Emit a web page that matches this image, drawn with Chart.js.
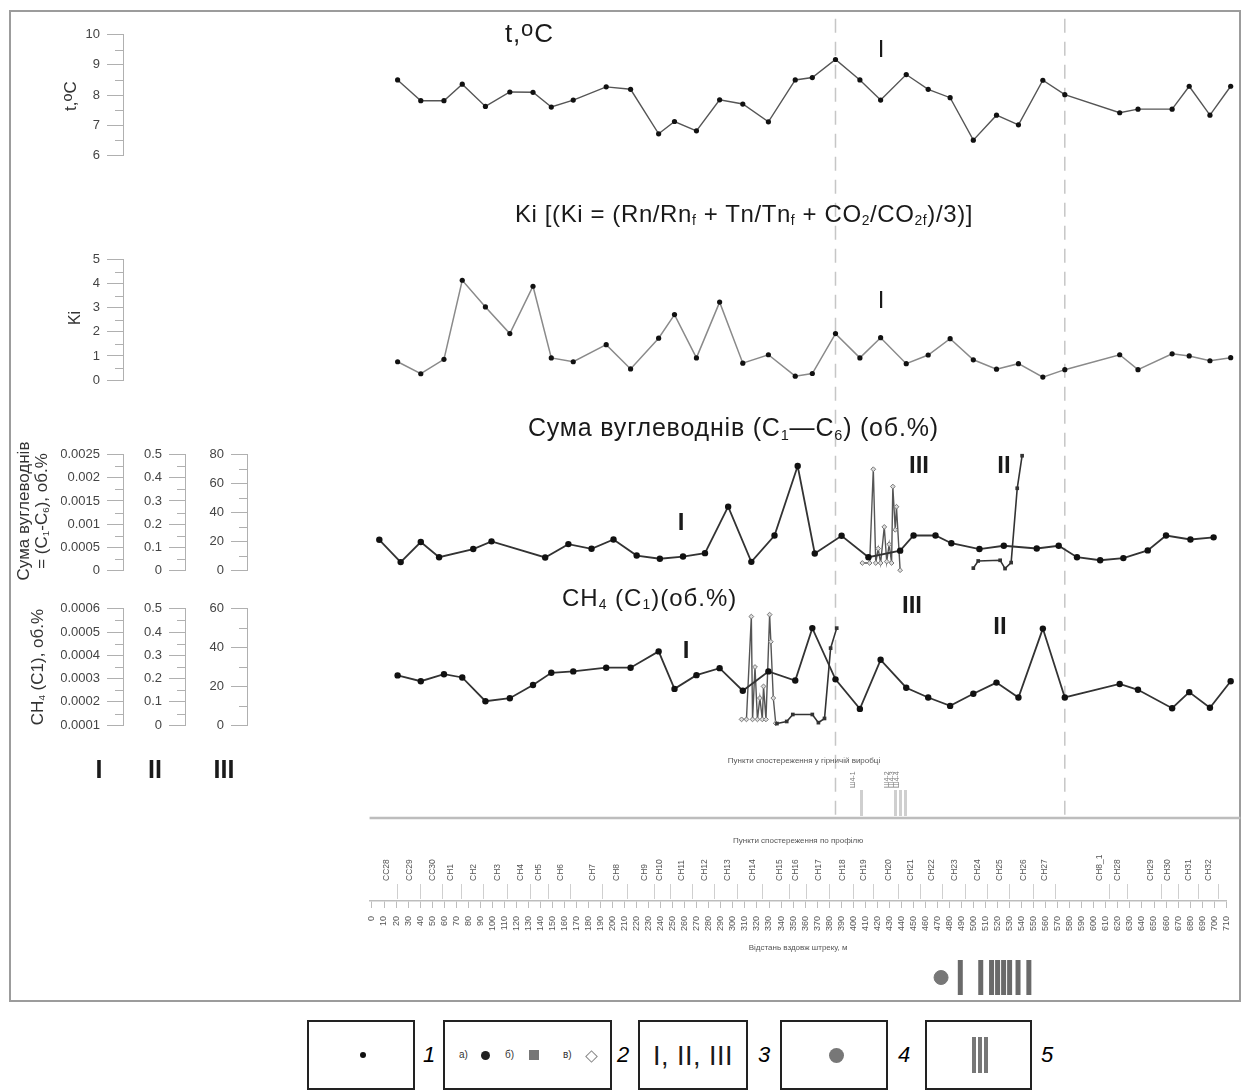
<!DOCTYPE html>
<html lang="uk">
<head>
<meta charset="utf-8">
<title>Профіль спостережень</title>
<script src="https://cdn.jsdelivr.net/npm/chart.js@4.4.1/dist/chart.umd.min.js"></script>
<style>
  body { margin: 0; background: #fff; font-family: "Liberation Sans", Arial, sans-serif; }
  #page { position: relative; width: 1245px; height: 1092px; overflow: hidden; background: #fff; }
  canvas { position: absolute; left: 0; }
  .frame { position: absolute; left: 9px; top: 10px; width: 1232px; height: 992px; border: 2px solid #9c9c9c; box-sizing: border-box; }
  .t { position: absolute; line-height: 1; white-space: nowrap; color: #1a1a1a; }
  .c { transform: translateX(-50%); }
  .b { font-weight: bold; }
  .rot { transform: translate(-50%, -50%) rotate(-90deg); text-align: center; color: #333; }
  sub { font-size: 58%; position: relative; top: 0.25em; vertical-align: baseline; line-height: 0; }
  sup { font-size: 85%; position: relative; top: -0.25em; vertical-align: baseline; line-height: 0; }
  .lg { position: absolute; top: 1020px; height: 70px; border: 2px solid #222; box-sizing: border-box; }
  .num { position: absolute; top: 1044px; font-size: 22px; font-style: italic; line-height: 1; }
</style>
</head>
<body>
<div id="page">
  <div class="frame"></div>

  <canvas id="cFrame" width="1245" height="820" style="top:10px"></canvas>
  <canvas id="cTemp" width="1245" height="150" style="top:20px"></canvas>
  <canvas id="cKi" width="1245" height="150" style="top:245px"></canvas>
  <canvas id="cSum" width="1245" height="145" style="top:440px"></canvas>
  <canvas id="cCh4" width="1245" height="146" style="top:594px"></canvas>
  <canvas id="cMine" width="1245" height="80" style="top:740px"></canvas>
  <canvas id="cRuler" width="1245" height="125" style="top:830px"></canvas>
  <canvas id="cMarks" width="1245" height="45" style="top:955px"></canvas>

  <!-- panel titles -->
  <div class="t" style="left:505px; top:20px; font-size:26px; letter-spacing:0.8px">t,<sup>o</sup>C</div>
  <div class="t c" style="left:744px; top:202px; font-size:24px; letter-spacing:0.6px">Ki [(Ki = (Rn/Rn<sub>f</sub> + Tn/Tn<sub>f</sub> + CO<sub>2</sub>/CO<sub>2f</sub>)/3)]</div>
  <div class="t" style="left:528px; top:415px; font-size:25px; letter-spacing:0.8px">Сума вуглеводнів (C<sub>1</sub>—C<sub>6</sub>) (об.%)</div>
  <div class="t" style="left:562px; top:586px; font-size:24px; letter-spacing:1px">CH<sub>4</sub> (C<sub>1</sub>)(об.%)</div>

  <!-- zone numerals -->
  <div class="t c" style="left:881px; top:37px; font-size:24px">I</div>
  <div class="t c" style="left:881px; top:288px; font-size:24px">I</div>
  <div class="t c b" style="left:681px; top:510px; font-size:24px">I</div>
  <div class="t c b" style="left:919px; top:453px; font-size:24px">III</div>
  <div class="t c b" style="left:1004px; top:453px; font-size:24px">II</div>
  <div class="t c b" style="left:686px; top:638px; font-size:24px">I</div>
  <div class="t c b" style="left:912px; top:593px; font-size:24px">III</div>
  <div class="t c b" style="left:1000px; top:614px; font-size:24px">II</div>

  <!-- left axis titles -->
  <div class="t rot" style="left:70px; top:96px; font-size:17px">t,<sup>o</sup>C</div>
  <div class="t rot" style="left:75px; top:318px; font-size:16px">Ki</div>
  <div class="t rot" style="left:33px; top:511px; font-size:17px; line-height:1.05">Сума вуглеводнів<br>= (C<sub>1</sub>-C<sub>6</sub>), об.%</div>
  <div class="t rot" style="left:37px; top:667px; font-size:17px">CH<sub>4</sub> (C1), об.%</div>

  <div class="t c b" style="left:99px; top:757px; font-size:25px">I</div>
  <div class="t c b" style="left:155px; top:757px; font-size:25px">II</div>
  <div class="t c b" style="left:224px; top:757px; font-size:25px">III</div>

  <!-- legend -->
  <div class="lg" style="left:307px; width:108px">
    <span style="position:absolute; left:51px; top:30px; width:6px; height:6px; border-radius:50%; background:#111"></span>
  </div>
  <div class="num" style="left:423px">1</div>
  <div class="lg" style="left:443px; width:169px; font-size:10px; color:#333">
    <span style="position:absolute; left:14px; top:27px">а)</span>
    <span style="position:absolute; left:36px; top:29px; width:9px; height:9px; border-radius:50%; background:#222"></span>
    <span style="position:absolute; left:60px; top:27px">б)</span>
    <span style="position:absolute; left:84px; top:28px; width:10px; height:10px; background:#777"></span>
    <span style="position:absolute; left:118px; top:27px">в)</span>
    <span style="position:absolute; left:142px; top:30px; width:7px; height:7px; border:1px solid #888; transform:rotate(45deg)"></span>
  </div>
  <div class="num" style="left:617px">2</div>
  <div class="lg" style="left:638px; width:110px">
    <span class="t" style="left:13px; top:21px; font-size:27px; letter-spacing:0.5px">I, II, III</span>
  </div>
  <div class="num" style="left:758px">3</div>
  <div class="lg" style="left:780px; width:108px">
    <span style="position:absolute; left:47px; top:26px; width:15px; height:15px; border-radius:50%; background:#777"></span>
  </div>
  <div class="num" style="left:898px">4</div>
  <div class="lg" style="left:925px; width:107px">
    <span style="position:absolute; left:45px; top:15px; width:4px; height:36px; background:#777"></span>
    <span style="position:absolute; left:51px; top:15px; width:4px; height:36px; background:#777"></span>
    <span style="position:absolute; left:57px; top:15px; width:4px; height:36px; background:#777"></span>
  </div>
  <div class="num" style="left:1041px">5</div>
</div>

<script>
// profile distance, m (observation stations along the drift)
const stations = [21, 40, 59, 74, 93, 113, 132, 147, 165, 192, 212, 235, 248, 266, 285, 304, 325, 347,
  361, 380, 400, 417, 438, 456, 474, 493, 512, 530, 550, 568, 613, 628, 656, 670, 687, 704];
const stationLabels = ['CC28', 'CC29', 'CC30', 'CH1', 'CH2', 'CH3', 'CH4', 'CH5', 'CH6', 'CH7', 'CH8', 'CH9',
  'CH10', 'CH11', 'CH12', 'CH13', 'CH14', 'CH15', 'CH16', 'CH17', 'CH18', 'CH19', 'CH20', 'CH21', 'CH22',
  'CH23', 'CH24', 'CH25', 'CH26', 'CH27', 'CH8_1', 'CH28', 'CH29', 'CH30', 'CH31', 'CH32'];

const tempC = [8.50, 7.81, 7.81, 8.36, 7.62, 8.10, 8.09, 7.60, 7.83, 8.27, 8.19, 6.71, 7.12, 6.81, 7.84, 7.70,
  7.11, 8.50, 8.58, 9.18, 8.50, 7.83, 8.68, 8.19, 7.91, 6.50, 7.33, 7.01, 8.49, 8.01, 7.41, 7.53, 7.53, 8.29, 7.33, 8.29];

const kiValues = [0.76, 0.26, 0.86, 4.15, 3.04, 1.93, 3.90, 0.92, 0.76, 1.47, 0.46, 1.74, 2.72, 0.92, 3.24, 0.70,
  1.05, 0.16, 0.27, 1.93, 0.92, 1.76, 0.68, 1.04, 1.72, 0.84, 0.45, 0.68, 0.12, 0.43, 1.05, 0.43, 1.09, 1.00, 0.80, 0.93];

// sum of hydrocarbons C1-C6, vol.% (scale I)
const sumX = [6, 23.5, 40, 55, 83, 98, 142, 161, 180, 198, 217, 236, 255, 273, 292, 311, 330, 349, 363,
  385, 407, 433, 444, 462, 475, 498, 518, 545, 563, 578, 597, 616, 636, 651, 671, 690];
const sumMain = [0.000659, 0.000175, 0.000611, 0.000282, 0.000458, 0.000625, 0.000276, 0.000565, 0.000464,
  0.000665, 0.000317, 0.000248, 0.000296, 0.000369, 0.001377, 0.000181, 0.000752, 0.002258, 0.000363,
  0.000746, 0.000282, 0.000423, 0.000752, 0.000752, 0.000585, 0.000458, 0.000530, 0.000470, 0.000530,
  0.000282, 0.000216, 0.000262, 0.000429, 0.000752, 0.000665, 0.000712];
// scale II points
const sumIIX = [493, 497, 515, 519, 524, 529, 533];
const sumII = [0.009, 0.040, 0.043, 0.007, 0.033, 0.355, 0.496];
// scale III points
const sumIIIX = [402, 408, 411, 413, 415, 417, 420, 422, 424, 426, 427, 429, 430, 433];
const sumIII = [5, 5, 70, 5, 15, 5, 30, 6, 18, 5, 58, 28, 44, 0];

// methane CH4, vol.%
const ch4Main = [0.000314, 0.000289, 0.000319, 0.000305, 0.000203, 0.000216, 0.000273, 0.000325, 0.000331,
  0.000347, 0.000347, 0.000417, 0.000256, 0.000315, 0.000345, 0.000248, 0.000331, 0.000292, 0.000517,
  0.000297, 0.000170, 0.000381, 0.000261, 0.000219, 0.000183, 0.000235, 0.000283, 0.000219, 0.000515,
  0.000219, 0.000277, 0.000252, 0.000173, 0.000242, 0.000175, 0.000289];
const ch4IIX = [332, 340, 345, 361, 366, 371, 376, 381];
const ch4II = [0.007, 0.016, 0.046, 0.046, 0.011, 0.029, 0.331, 0.417];
const ch4IIIX = [303, 307, 311, 312, 314, 316, 318, 320, 321, 323, 326, 327, 329, 331];
const ch4III = [3, 3, 56, 3, 30, 3, 14, 3, 20, 3, 57, 43, 14, 1];

const zoneBounds = [380, 568];
const profileSpan = [-2, 712];
const minePoints = [401, 429, 433, 437];
const mineLabels = ['Ш4-1', 'Ш4-2', 'Ш4-3', 'Ш4-4'];
const distanceTicks = [0, 10, 20, 30, 40, 50, 60, 70, 80, 90, 100, 110, 120, 130, 140, 150, 160, 170, 180, 190,
  200, 210, 220, 230, 240, 250, 260, 270, 280, 290, 300, 310, 320, 330, 340, 350, 360, 370, 380, 390, 400, 410,
  420, 430, 440, 450, 460, 470, 480, 490, 500, 510, 520, 530, 540, 550, 560, 570, 580, 590, 600, 610, 620, 630,
  640, 650, 660, 670, 680, 690, 700, 710];
const markerCircleX = [476];
const markerBarsX = [492, 509, 518, 523, 528, 533, 540, 549];

// page geometry of the profile scale
const PX_PER_M = 866 / 710;
const X0_PX = 372;
const PLOT_RIGHT = 1238;
const RULER_LEFT = 370;
const AXIS_W = 62;
function xFromPx(px) { return (px - X0_PX) / PX_PER_M; }

Chart.defaults.font.family = '"Liberation Sans", Arial, sans-serif';

// short ticks half way between labelled ones
const minorTicks = {
  id: 'minorTicks',
  afterDraw(chart) {
    const ctx = chart.ctx;
    Object.values(chart.scales).forEach(s => {
      const step = s.options.minorStep;
      if (!step) return;
      ctx.save();
      ctx.strokeStyle = '#b0b0b0';
      ctx.lineWidth = 1;
      for (let v = s.min + step; v < s.max; v += step * 2) {
        const y = Math.round(s.getPixelForValue(v)) + 0.5;
        ctx.beginPath();
        ctx.moveTo(s.right - 8, y);
        ctx.lineTo(s.right, y);
        ctx.stroke();
      }
      ctx.restore();
    });
  }
};
Chart.register(minorTicks);

function pts(xs, ys) { return xs.map((x, i) => ({ x: x, y: ys[i] })); }

function yAxis(min, max, step, weight) {
  return {
    type: 'linear', position: 'left', min: min, max: max, weight: weight,
    minorStep: step / 2,
    afterFit: s => { s.width = AXIS_W; },
    border: { color: '#b0b0b0', width: 1 },
    grid: { drawOnChartArea: false, tickLength: 16, tickColor: '#b0b0b0' },
    ticks: { stepSize: step, padding: 7, color: '#444', font: { size: 13 },
      callback: v => String(+v.toFixed(6)) }
  };
}

function options(pad, left, scales) {
  return {
    responsive: false, animation: false, devicePixelRatio: 1,
    layout: { padding: pad },
    plugins: { legend: { display: false }, tooltip: { enabled: false } },
    scales: Object.assign({
      x: { type: 'linear', display: false, min: xFromPx(left), max: xFromPx(PLOT_RIGHT) }
    }, scales)
  };
}

function line(data, axis, color, width, radius, extra) {
  return Object.assign({
    data: data, yAxisID: axis, showLine: true, tension: 0, clip: false,
    borderColor: color, borderWidth: width,
    pointRadius: radius, pointBackgroundColor: '#111', pointBorderColor: '#111', pointBorderWidth: 0
  }, extra || {});
}

// background: zone boundaries and the separating line
new Chart(document.getElementById('cFrame'), {
  type: 'scatter',
  data: {
    datasets: zoneBounds.map(b => line([{ x: b, y: 0.004 }, { x: b, y: 1 }], 'y', '#c6c6c6', 1.5, 0, { borderDash: [14, 9] }))
      .concat([line(profileSpan.map(x => ({ x: x, y: 0 })), 'y', '#bdbdbd', 2.5, 0)])
  },
  options: options({ left: 123, right: 1245 - PLOT_RIGHT, top: 5, bottom: 12 }, 123,
    { y: { display: false, min: 0, max: 1 } })
});

new Chart(document.getElementById('cTemp'), {
  type: 'scatter',
  data: { datasets: [line(pts(stations, tempC), 'y', '#555', 1.4, 2.6)] },
  options: options({ left: 123 - AXIS_W, right: 1245 - PLOT_RIGHT, top: 13.3, bottom: 11.3 }, 123,
    { y: yAxis(6, 10, 1, 1) })
});

new Chart(document.getElementById('cKi'), {
  type: 'scatter',
  data: { datasets: [line(pts(stations, kiValues), 'y', '#8a8a8a', 1.5, 2.6)] },
  options: options({ left: 123 - AXIS_W, right: 1245 - PLOT_RIGHT, top: 11.7, bottom: 15 }, 123,
    { y: yAxis(0, 5, 1, 1) })
});

new Chart(document.getElementById('cSum'), {
  type: 'scatter',
  data: {
    datasets: [
      line(pts(sumX, sumMain), 'yI', '#333', 1.8, 3.2),
      line(pts(sumIIX, sumII), 'yII', '#333', 1.6, 2.6, { pointStyle: 'rect', pointBackgroundColor: '#333' }),
      line(pts(sumIIIX, sumIII), 'yIII', '#555', 1.4, 2.4,
        { pointStyle: 'rectRot', pointBackgroundColor: '#ddd', pointBorderColor: '#777', pointBorderWidth: 1 })
    ]
  },
  options: options({ left: 247 - 3 * AXIS_W, right: 1245 - PLOT_RIGHT, top: 10, bottom: 11 }, 247, {
    yI: yAxis(0, 0.0025, 0.0005, 3),
    yII: yAxis(0, 0.5, 0.1, 2),
    yIII: yAxis(0, 80, 20, 1)
  })
});

new Chart(document.getElementById('cCh4'), {
  type: 'scatter',
  data: {
    datasets: [
      line(pts(stations, ch4Main), 'yI', '#333', 1.8, 3.2),
      line(pts(ch4IIX, ch4II), 'yII', '#333', 1.6, 2.6, { pointStyle: 'rect', pointBackgroundColor: '#333' }),
      line(pts(ch4IIIX, ch4III), 'yIII', '#555', 1.4, 2.4,
        { pointStyle: 'rectRot', pointBackgroundColor: '#ddd', pointBorderColor: '#777', pointBorderWidth: 1 })
    ]
  },
  options: options({ left: 247 - 3 * AXIS_W, right: 1245 - PLOT_RIGHT, top: 10, bottom: 10 }, 247, {
    yI: yAxis(0.0001, 0.0006, 0.0001, 3),
    yII: yAxis(0, 0.5, 0.1, 2),
    yIII: yAxis(0, 60, 20, 1)
  })
});

// observation points in the mine working
const mineOpts = options({ left: RULER_LEFT, right: 1245 - PLOT_RIGHT, top: 16, bottom: 2 }, RULER_LEFT,
  { y: { display: false, min: 0, max: 1 } });
Object.assign(mineOpts.scales.x, {
  display: true, position: 'top',
  afterFit: s => { s.height = 60; },
  afterBuildTicks: s => { s.ticks = minePoints.map(v => ({ value: v })); },
  grid: { drawOnChartArea: false, tickLength: 26, tickColor: '#cfcfcf', tickWidth: 3 },
  border: { display: false },
  ticks: { autoSkip: false, minRotation: 90, maxRotation: 90, padding: 2, color: '#777', font: { size: 7 },
    callback: (v, i) => mineLabels[i] },
  title: { display: true, text: 'Пункти спостереження у гірничій виробці', color: '#555', font: { size: 8 },
    padding: { top: 0, bottom: 2 } }
});
new Chart(document.getElementById('cMine'), { type: 'scatter', data: { datasets: [] }, options: mineOpts });

// profile stations and distance ruler
const rulerOpts = options({ left: RULER_LEFT, right: 1245 - PLOT_RIGHT, top: 2, bottom: 2 }, RULER_LEFT,
  { y: { display: false, min: 0, max: 1 } });
Object.assign(rulerOpts.scales.x, {
  display: true, position: 'bottom',
  afterFit: s => { s.height = 52; },
  afterBuildTicks: s => { s.ticks = distanceTicks.map(v => ({ value: v })); },
  grid: { drawOnChartArea: false, tickLength: 7, tickColor: '#bdbdbd' },
  border: { display: true, color: '#bdbdbd', width: 1.5 },
  ticks: { autoSkip: false, minRotation: 90, maxRotation: 90, padding: 8, color: '#555', font: { size: 9 },
    callback: v => String(v) },
  title: { display: true, text: 'Відстань вздовж штреку, м', color: '#555', font: { size: 8 },
    padding: { top: 0, bottom: 0 } }
});
rulerOpts.scales.xs = {
  type: 'linear', position: 'top', min: rulerOpts.scales.x.min, max: rulerOpts.scales.x.max,
  afterFit: s => { s.height = 67; },
  afterBuildTicks: s => { s.ticks = stations.map(v => ({ value: v })); },
  grid: { drawOnChartArea: false, tickLength: 15, tickColor: '#cfcfcf' },
  border: { display: false },
  ticks: { autoSkip: false, minRotation: 90, maxRotation: 90, padding: 3, color: '#555', font: { size: 8.5 },
    callback: (v, i) => stationLabels[i] },
  title: { display: true, text: 'Пункти спостереження по профілю', color: '#555', font: { size: 8 },
    padding: { top: 4, bottom: 2 } }
};
new Chart(document.getElementById('cRuler'), { type: 'scatter', data: { datasets: [] }, options: rulerOpts });

// symbols 4 and 5 below the ruler
new Chart(document.getElementById('cMarks'), {
  type: 'scatter',
  data: {
    datasets: [
      { data: markerCircleX.map(x => ({ x: x, y: 0.5 })), pointStyle: 'circle', pointRadius: 7,
        pointBackgroundColor: '#777', pointBorderColor: '#777', clip: false },
      { data: markerBarsX.map(x => ({ x: x, y: 0.5 })), pointStyle: 'line', pointRotation: 90, pointRadius: 17.5,
        pointBorderColor: '#6a6a6a', pointBorderWidth: 5, clip: false }
    ]
  },
  options: options({ left: 123, right: 1245 - PLOT_RIGHT, top: 5, bottom: 3 }, 123,
    { y: { display: false, min: 0, max: 1 } })
});
</script>
</body>
</html>
